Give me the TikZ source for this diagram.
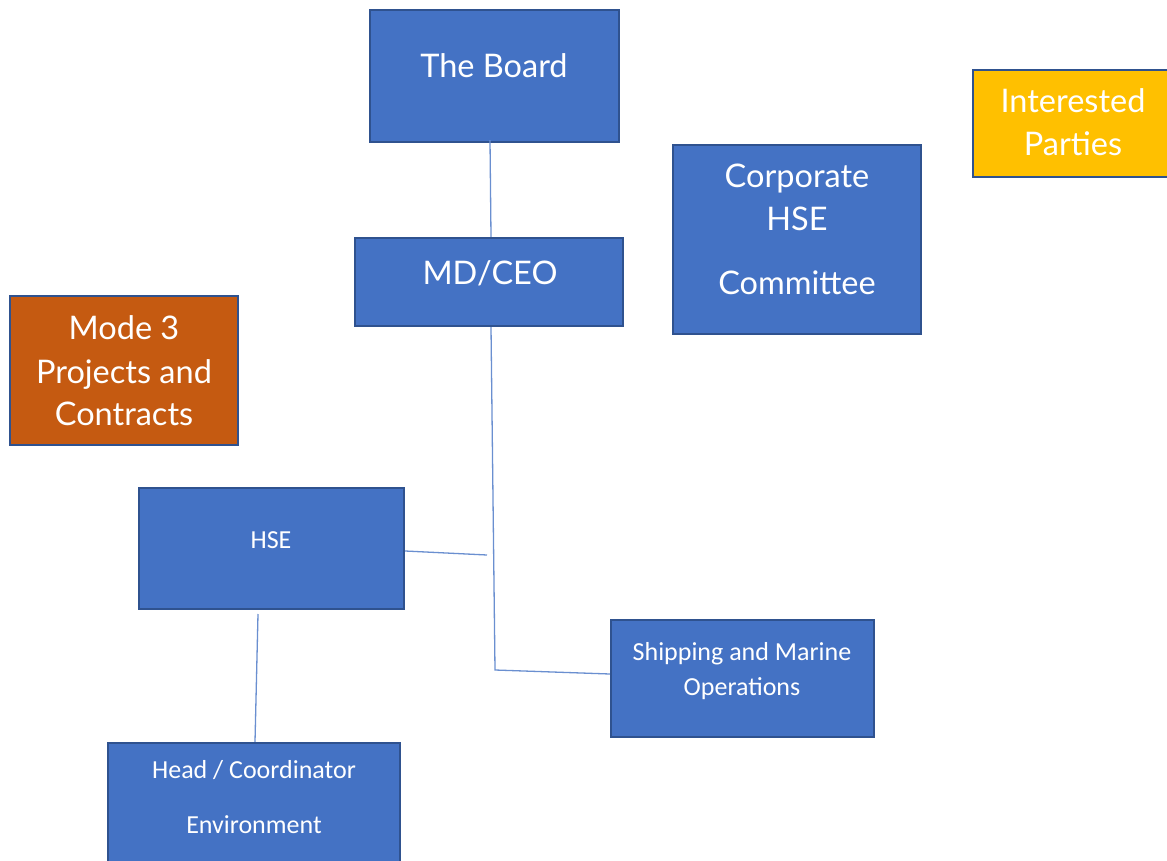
\documentclass[tikz,border=0pt]{standalone}
\usepackage{fontspec}
\setmainfont{Carlito}
\newfontfamily\bigfont{Lato}
\definecolor{boxblue}{HTML}{4472C4}
\definecolor{edgeblue}{HTML}{2F528F}
\definecolor{boxorange}{HTML}{C55A11}
\definecolor{boxyellow}{HTML}{FFC000}
\definecolor{lineblue}{HTML}{6A8FD0}
\tikzset{
  orgbox/.style={draw=edgeblue, line width=2.4pt, fill=boxblue, inner sep=0pt},
  bigtxt/.style={text=white, font=\bigfont\fontsize{32.5}{38}\selectfont, anchor=base, inner sep=0pt},
  smalltxt/.style={text=white, font=\fontsize{26}{31}\selectfont, anchor=base, inner sep=0pt},
  link/.style={draw=lineblue, line width=1.3pt}
}
\begin{document}
\begin{tikzpicture}[x=1pt,y=-1pt]
\useasboundingbox (0,0) rectangle (1167,861);
\clip (0,0) rectangle (1167,861);
% boxes
\node[orgbox, minimum width=249pt, minimum height=132pt] (board) at (494.5,76) {};
\node[orgbox, minimum width=268pt, minimum height=88pt] (md) at (489,282) {};
\node[orgbox, minimum width=248pt, minimum height=189pt] (corp) at (797,239.5) {};
\node[orgbox, fill=boxyellow, minimum width=230pt, minimum height=107pt] (ip) at (1088,123.5) {};
\node[orgbox, fill=boxorange, minimum width=228pt, minimum height=149pt] (mode) at (124,370.5) {};
\node[orgbox, minimum width=265pt, minimum height=121pt] (hse) at (271.5,548.5) {};
\node[orgbox, minimum width=263pt, minimum height=117pt] (ship) at (742.5,678.5) {};
\node[orgbox, minimum width=292pt, minimum height=140pt] (head) at (254,813) {};
% texts
\node[bigtxt] (tboard) at (494,78) {The Board};
\node[bigtxt] (tmd) at (490,284) {MD/CEO};
\node[bigtxt] (tcorp1) at (797,188) {Corporate};
\node[bigtxt] (tcorp2) at (797,230) {HSE};
\node[bigtxt] (tcorp3) at (797,294) {Committee};
\node[bigtxt] (tip1) at (1073,113) {Interested};
\node[bigtxt] (tip2) at (1073,156) {Parties};
\node[bigtxt] (tmode1) at (124,339) {Mode 3};
\node[bigtxt] (tmode2) at (124,383) {Projects and};
\node[bigtxt] (tmode3) at (124,425) {Contracts};
\node[smalltxt] (thse) at (271,548) {HSE};
\node[smalltxt] (tship1) at (742,660) {Shipping and Marine};
\node[smalltxt] (tship2) at (742,695) {Operations};
\node[smalltxt] (thead1) at (254,778) {Head / Coordinator};
\node[smalltxt] (thead2) at (254,833) {Environment};
% connectors
\coordinate (b1) at ([xshift=-4.5pt,yshift=3pt]board.south);
\coordinate (m1) at ([xshift=2pt]md.north);
\draw[link] (b1) -- (m1);
\coordinate (m2) at ([xshift=2pt]md.south);
\coordinate (bend) at (495,670);
\coordinate (s1) at (ship.west |- 0,674);
\draw[link] (m2) -- (bend) -- (s1);
\coordinate (h1) at (hse.east |- 0,551);
\coordinate (h2) at (487,555);
\draw[link] (h1) -- (h2);
\coordinate (h3) at (258,614);
\coordinate (hd) at (head.north -| 255,0);
\draw[link] (h3) -- (hd);
\end{tikzpicture}
\end{document}
